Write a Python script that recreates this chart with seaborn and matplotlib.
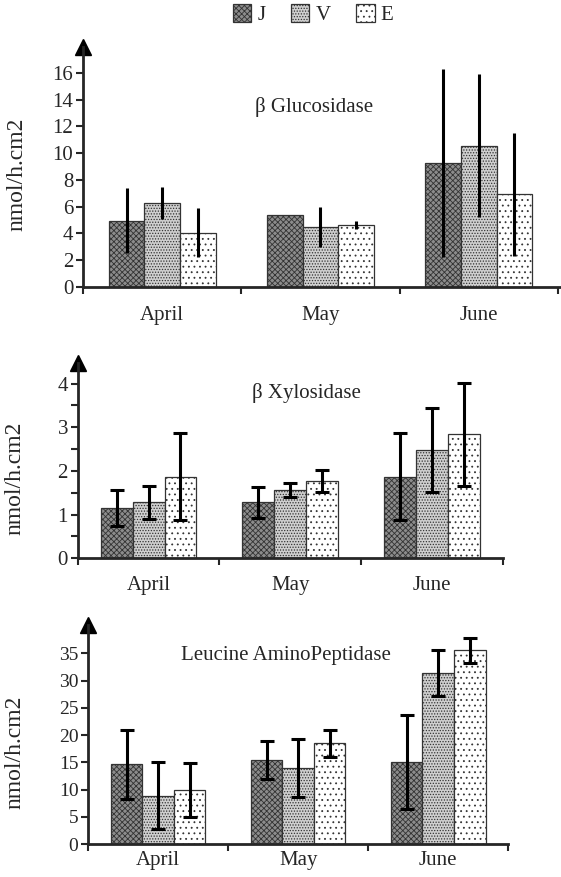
import numpy as np
import pandas as pd
import matplotlib
matplotlib.use("Agg")
import matplotlib.pyplot as plt
import seaborn as sns

# data
months = ["April", "May", "June"]
series = ["J", "V", "E"]

glu_J = [4.95, 5.35, 9.25]
glu_V = [6.25, 4.45, 10.55]
glu_E = [4.05, 4.65, 6.9]
glu_J_err = [2.4, 0.0, 7.0]
glu_V_err = [1.2, 1.5, 5.35]
glu_E_err = [1.85, 0.3, 4.6]

xyl_J = [1.16, 1.28, 1.87]
xyl_V = [1.28, 1.57, 2.48]
xyl_E = [1.87, 1.77, 2.84]
xyl_J_err = [0.41, 0.36, 1.0]
xyl_V_err = [0.37, 0.16, 0.96]
xyl_E_err = [1.0, 0.25, 1.18]

lap_J = [14.6, 15.5, 15.0]
lap_V = [8.9, 13.9, 31.4]
lap_E = [9.9, 18.5, 35.6]
lap_J_err = [6.4, 3.5, 8.6]
lap_V_err = [6.2, 5.3, 4.3]
lap_E_err = [4.9, 2.5, 2.3]

sns.set_theme(style="ticks")
plt.rcParams["font.family"] = ["Liberation Serif", "DejaVu Serif"]
plt.rcParams["hatch.color"] = "black"
plt.rcParams["hatch.linewidth"] = 0.6

face = {"J": "#8c8c8c", "V": "#cfcfcf", "E": "#ffffff"}
hatch = {"J": "xxxxxx", "V": "......", "E": "..."}


def make_df(vals, errs):
    rows = []
    for s, v, e in zip(series, vals, errs):
        for m, vv, ee in zip(months, v, e):
            rows.append({"month": m, "series": s, "value": vv, "err": ee})
    return pd.DataFrame(rows)


panels = [
    dict(df=make_df([glu_J, glu_V, glu_E], [glu_J_err, glu_V_err, glu_E_err]),
         rect=[0.148, 0.673, 0.852, 0.273], ymax=17.9, yticks=np.arange(0, 17, 2), minor=None,
         title="β Glucosidase", tpos=(0.484, 0.75), lab=(-0.117, 0.47), cap=0, fs=15,
         xend=2.52, pad=14),
    dict(df=make_df([xyl_J, xyl_V, xyl_E], [xyl_J_err, xyl_V_err, xyl_E_err]),
         rect=[0.1385, 0.3634, 0.758, 0.2227], ymax=4.47, yticks=np.arange(0, 5, 1), minor=np.arange(0, 4.5, 0.5),
         title="β Xylosidase", tpos=(0.538, 0.846), lab=(-0.124, 0.41), cap=5, fs=15,
         xend=2.5, pad=13),
    dict(df=make_df([lap_J, lap_V, lap_E], [lap_J_err, lap_V_err, lap_E_err]),
         rect=[0.157, 0.0376, 0.749, 0.2497], ymax=40.2, yticks=np.arange(0, 36, 5), minor=None,
         title="Leucine AminoPeptidase", tpos=(0.47, 0.863), lab=(-0.15, 0.42), cap=5, fs=14,
         xend=2.5, pad=5),
]

fig = plt.figure(figsize=(5.61, 8.77), dpi=100)

legend_handles = None
for p in panels:
    ax = fig.add_axes(p["rect"])
    df = p["df"]
    sns.barplot(data=df, x="month", y="value", hue="series", order=months, hue_order=series,
                errorbar=None, width=0.675, gap=0, palette=face, edgecolor="#333333",
                linewidth=0.9, ax=ax, legend=False)
    bar_conts = list(ax.containers)
    for s, cont in zip(series, bar_conts):
        sub = df[df["series"] == s].set_index("month").loc[months]
        xs = []
        for bar in cont.patches:
            bar.set_hatch(hatch[s])
            xs.append(bar.get_x() + bar.get_width() / 2)
        ax.errorbar(xs, sub["value"], yerr=sub["err"], fmt="none", ecolor="black",
                    elinewidth=2.2, capsize=p["cap"], capthick=2.2, zorder=5)
    if legend_handles is None:
        legend_handles = [c.patches[0] for c in bar_conts]
    ax.set_xlim(-0.5, p["xend"])
    ax.set_ylim(0, p["ymax"])
    ax.set_yticks(p["yticks"])
    if p["minor"] is not None:
        ax.set_yticks(p["minor"], minor=True)
        ax.tick_params(axis="y", which="minor", length=5, width=1.5)
    ax.set_xticks(range(len(months)))
    ax.set_xticklabels(months, fontsize=15)
    ax.set_xticks([-0.5, 0.5, 1.5, 2.5], minor=True)
    ax.tick_params(axis="x", which="major", length=0, pad=p["pad"])
    ax.tick_params(axis="x", which="minor", length=5, width=1.5, direction="out")
    ax.tick_params(axis="y", which="major", length=5, width=1.5, labelsize=p["fs"], pad=2)
    ax.set_xlabel("")
    ax.set_ylabel("nmol/h.cm2", fontsize=17)
    ax.yaxis.set_label_coords(*p["lab"])
    sns.despine(ax=ax)
    for side in ["left", "bottom"]:
        ax.spines[side].set_linewidth(2)
    ax.plot(0, 1, marker="^", color="black", markersize=11, transform=ax.transAxes, clip_on=False)
    ax.text(p["tpos"][0], p["tpos"][1], p["title"], transform=ax.transAxes,
            ha="center", va="center", fontsize=15)

fig.legend(legend_handles, series, loc="center", bbox_to_anchor=(0.558, 0.983), ncol=3, frameon=False,
           fontsize=15, handlelength=0.9, handleheight=0.9, handletextpad=0.3, columnspacing=1.2)

fig.savefig("out.png", dpi=100)
